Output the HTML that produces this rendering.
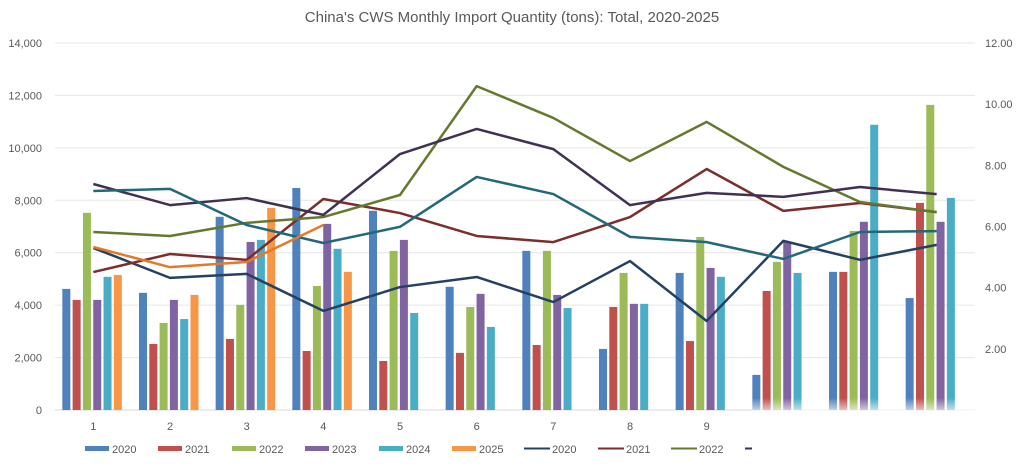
<!DOCTYPE html>
<html><head><meta charset="utf-8"><style>
body{margin:0;background:#fff;}
svg{display:block;font-family:"Liberation Sans",sans-serif;}
</style></head><body>
<svg id="chart" width="1024" height="466">
<defs>
<linearGradient id="fadeV" x1="0" y1="0" x2="0" y2="1">
<stop offset="0" stop-color="#fff" stop-opacity="0"/>
<stop offset="0.25" stop-color="#fff" stop-opacity="0.9"/>
<stop offset="0.4" stop-color="#fff" stop-opacity="1"/>
<stop offset="1" stop-color="#fff" stop-opacity="1"/>
</linearGradient>
</defs>
<text x="512" y="22" text-anchor="middle" font-size="15" fill="#595959">China's CWS Monthly Import Quantity (tons): Total, 2020-2025</text>
</svg>
<script>
const categories=["1","2","3","4","5","6","7","8","9","10","11","12"];
const barYears=["2020","2021","2022","2023","2024","2025"];
const bar2020=[4620,4470,7370,8470,7600,4700,6070,2330,5230,1340,5270,4270];
const bar2021=[4200,2520,2710,2250,1870,2180,2480,3930,2630,4540,5270,7900];
const bar2022=[7520,3320,4010,4730,6070,3930,6070,5230,6600,5650,6830,11640];
const bar2023=[4200,4200,6410,7100,6490,4430,4390,4050,5420,6410,7180,7180];
const bar2024=[5080,3470,6490,6150,3700,3170,3890,4050,5080,5230,10880,8090];
const bar2025=[5150,4390,7710,5270];
const lineYears=["2020","2021","2022","2023","2024","2025"];
const line2020=[5.30,4.32,4.45,3.24,4.02,4.35,3.53,4.87,2.91,5.53,4.91,5.40];
const line2021=[4.51,5.10,4.91,6.90,6.44,5.69,5.49,6.31,7.88,6.51,6.77,6.47];
const line2022=[5.82,5.69,6.12,6.31,7.03,10.59,9.55,8.14,9.42,7.95,6.80,6.47];
const line2023=[7.39,6.70,6.93,6.38,8.37,9.19,8.53,6.70,7.10,6.97,7.29,7.06];
const line2024=[7.16,7.23,6.05,5.46,5.99,7.62,7.06,5.66,5.49,4.94,5.82,5.85];
const line2025=[5.33,4.67,4.84,6.05];
const leftTicks=["0","2,000","4,000","6,000","8,000","10,000","12,000","14,000"];
const leftTickVals=[0,2000,4000,6000,8000,10000,12000,14000];
const rightTicks=["2.00","4.00","6.00","8.00","10.00","12.00"];
const rightTickVals=[2,4,6,8,10,12];

const svg=document.getElementById('chart');
const NS='http://www.w3.org/2000/svg';
const X0=55,X1=975,Y0=410,Y1=43;
const band=(X1-X0)/categories.length;
const xc=i=>X0+band*(i+0.5);
const yL=v=>Y0-(v/14000)*(Y0-Y1);
const yR=v=>Y0-(v/12)*(Y0-Y1);
function mk(tag,attrs){const e=document.createElementNS(NS,tag);for(const k in attrs)e.setAttribute(k,attrs[k]);svg.appendChild(e);return e;}

leftTickVals.forEach((v,i)=>{
  if(v>0){const g=mk('line',{x1:X0,x2:X1,y1:yL(v),y2:yL(v),stroke:'#e6e6e6','stroke-width':1});
  
  }
  const t=mk('text',{x:42,y:yL(v)+4,'text-anchor':'end','font-size':11,fill:'#595959'});
  t.textContent=leftTicks[i];
  
  
});
rightTickVals.forEach((v,i)=>{
  const t=mk('text',{x:985,y:yR(v)+4,'font-size':11,fill:'#595959'});
  t.textContent=rightTicks[i];
  
  
});
const ax=mk('line',{x1:X0,x2:X1,y1:Y0,y2:Y0,stroke:'#d9d9d9','stroke-width':1});


categories.forEach((c,i)=>{
  const t=mk('text',{x:xc(i),y:430,'text-anchor':'middle','font-size':11,fill:'#595959'});
  t.textContent=c;
  
  
});

const barColors=['#4f81bd','#c0504d','#9bbb59','#8064a2','#4bacc6','#f79646'];
const barSeries=[bar2020,bar2021,bar2022,bar2023,bar2024,bar2025];
const bw=8,pitch=10.3;
barSeries.forEach((s,si)=>{
  s.forEach((v,i)=>{
    const x=xc(i)-31+si*pitch;
    const r=mk('rect',{x:x,y:yL(v),width:bw,height:Y0-yL(v),fill:barColors[si]});
    
    
  });
});

const lineColors=['#254061','#7b2e2b','#64792f','#403152','#23687a','#e37a2a'];
const lineSeries=[line2020,line2021,line2022,line2023,line2024,line2025];
lineSeries.forEach((s,si)=>{
  const pts=s.map((v,i)=>xc(i)+','+yR(v)).join(' ');
  const p=mk('polyline',{points:pts,fill:'none',stroke:lineColors[si],'stroke-width':2.5,'stroke-linejoin':'round'});
  
  
});

const lx=[85,158,232,305,379,452];
barYears.forEach((y,i)=>{
  const r=mk('rect',{x:lx[i],y:446,width:24,height:5,fill:barColors[i]});
  
  
  const t=mk('text',{x:lx[i]+27,y:453,'font-size':11,fill:'#595959'});
  t.textContent=y;
  
  
});
const llx=[524,598,671,745];
llx.forEach((x,i)=>{
  const l=mk('line',{x1:x,x2:x+26,y1:448.5,y2:448.5,stroke:lineColors[i],'stroke-width':2});
  
  
  if(i<3){const t=mk('text',{x:x+28,y:453,'font-size':11,fill:'#595959'});
  t.textContent=lineYears[i];
  
  }
});
const f=mk('rect',{x:752,y:398,width:272,height:68,fill:'url(#fadeV)'});


</script>
</body></html>
